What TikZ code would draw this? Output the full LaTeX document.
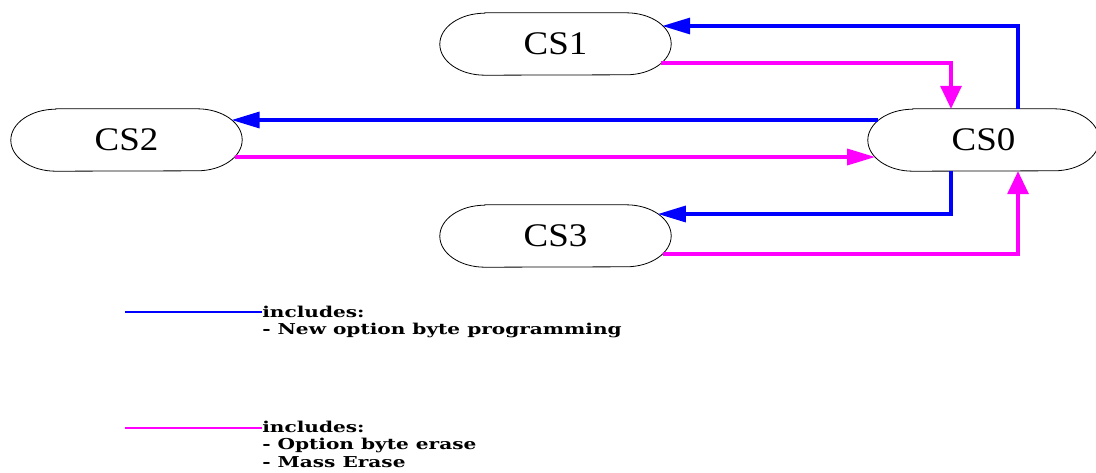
\documentclass[tikz,border=0pt]{standalone}
\usepackage{fontspec}
\setmainfont{Liberation Serif}
\newfontfamily\legendfont{DejaVu Serif}
\usepackage{tikz}
\usetikzlibrary{positioning,arrows.meta,calc}
\definecolor{progblue}{RGB}{0,0,255}
\definecolor{erasepink}{RGB}{255,0,255}

\begin{document}
\begin{tikzpicture}[x=1pt, y=-1pt,
  state/.style={minimum width=231pt, minimum height=62pt, inner sep=0pt, font=\fontsize{33}{36}\selectfont},
  outline/.style={draw=black, line width=0.8pt},
  progline/.style={progblue, line width=3.3pt},
  eraseline/.style={erasepink, line width=3.3pt},
  htip/.style={-{Triangle[length=28pt, width=16pt]}},
  vtip/.style={-{Triangle[length=23pt, width=21pt]}},
  legtext/.style={anchor=base west, inner sep=0pt, align=left, xscale=1.34, font=\legendfont\bfseries\fontsize{15}{17.5}\selectfont}]

\useasboundingbox (0,0) rectangle (1096,472);

\node[state] (cs1) at (555.5, 44) {\scalebox{1.12}[1]{CS1}};
\node[state] (cs2) at (126.5, 140) {\scalebox{1.12}[1]{CS2}};
\node[state] (cs0) at (983.5, 140) {\scalebox{1.12}[1]{CS0}};
\node[state] (cs3) at (555.5, 236) {\scalebox{1.12}[1]{CS3}};

% stadium outlines with elliptic ends
\foreach \n in {cs0,cs1,cs2,cs3}
  \draw[outline] ([xshift=45pt]\n.north west) -- ([xshift=-45pt]\n.north east)
    arc[start angle=90, end angle=-90, x radius=45pt, y radius=31pt]
    -- ([xshift=45pt]\n.south west)
    arc[start angle=270, end angle=90, x radius=45pt, y radius=31pt] -- cycle;

\draw[progline, htip] ([xshift=34.5pt]cs0.north) |- ([xshift=-9pt, yshift=18pt]cs1.east);
\draw[eraseline, vtip] ([xshift=-10pt, yshift=-19pt]cs1.east) -| ([xshift=-32.5pt]cs0.north);
\draw[progline, htip] ([xshift=10.6pt, yshift=20pt]cs0.west) -- ([xshift=-10.6pt, yshift=20pt]cs2.east);
\draw[eraseline, htip] ([xshift=-7.4pt, yshift=-17pt]cs2.east) -- ([xshift=7.4pt, yshift=-17pt]cs0.west);
\draw[progline, htip] ([xshift=-32.5pt]cs0.south) |- ([xshift=-13.3pt, yshift=22pt]cs3.east);
\draw[eraseline, vtip] ([xshift=-8.4pt, yshift=-18pt]cs3.east) -| ([xshift=34.5pt]cs0.south);

% legend (base = last line)
\node[legtext] (legprog) at (262, 334.5) {includes:\\- New option byte programming};
\node[legtext] (legerase) at (262, 467) {includes:\\- Option byte erase\\- Mass Erase};

\coordinate (kprog) at (125, 312);
\coordinate (kerase) at (125, 428);
\draw[progblue, line width=2.4pt] (kprog) -- (kprog -| legprog.west);
\draw[erasepink, line width=2.4pt] (kerase) -- (kerase -| legerase.west);

\end{tikzpicture}
\end{document}
